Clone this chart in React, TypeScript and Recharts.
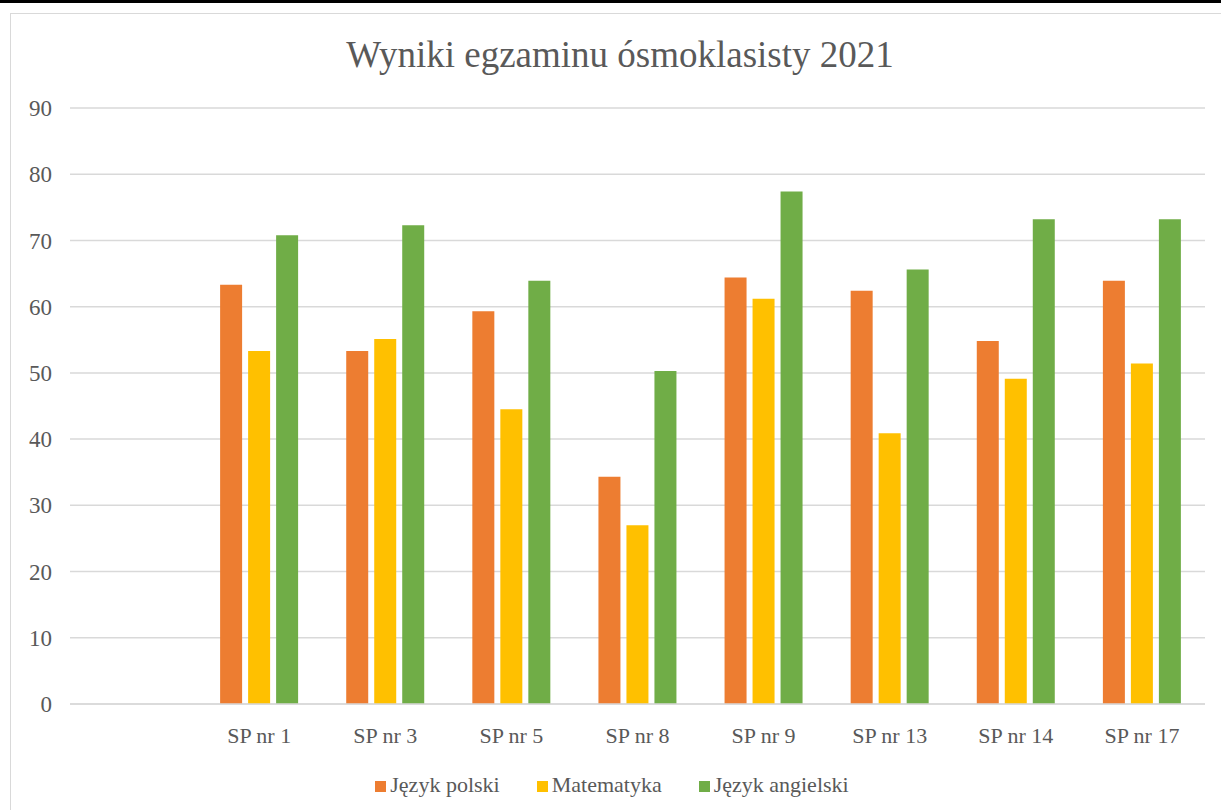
import { BarChart, Bar, XAxis, YAxis, CartesianGrid, Legend } from "recharts";

const schools = ["", "SP nr 1", "SP nr 3", "SP nr 5", "SP nr 8", "SP nr 9", "SP nr 13", "SP nr 14", "SP nr 17"];
const polski = [null, 63.3, 53.3, 59.3, 34.3, 64.4, 62.4, 54.8, 63.9];
const matematyka = [null, 53.3, 55.1, 44.5, 27.0, 61.2, 40.9, 49.1, 51.4];
const angielski = [null, 70.8, 72.3, 63.9, 50.3, 77.4, 65.6, 73.2, 73.2];
const yTicks = [0, 10, 20, 30, 40, 50, 60, 70, 80, 90];
const legendOrder = ["polski", "matematyka", "angielski"];

const data = schools.map((name, i) => ({
  name,
  polski: polski[i],
  matematyka: matematyka[i],
  angielski: angielski[i],
}));

const FONT = '"Liberation Serif", "Times New Roman", serif';
const TEXT = "#595959";
const GRID = "#d9d9d9";

export default function App() {
  return (
    <div style={{ position: "fixed", left: 0, top: 0, width: 1221, height: 810, background: "#fff", overflow: "hidden", fontFamily: FONT }}>
      <div style={{ position: "absolute", left: 0, top: 0, width: 1221, height: 3, background: "#000" }} />
      <div style={{ position: "absolute", left: 10, top: 13, width: 1240, height: 840, border: `1.5px solid ${GRID}` }} />
      <div
        style={{
          position: "absolute",
          left: 0,
          top: 33,
          width: 1240,
          textAlign: "center",
          fontSize: 37,
          color: TEXT,
        }}
      >
        Wyniki egzaminu ósmoklasisty 2021
      </div>
      <BarChart
        width={1221}
        height={810}
        data={data}
        margin={{ top: 108, right: 16, left: 0, bottom: 50 }}
        barSize={22}
        barGap={6}
        style={{ position: "absolute", left: 0, top: 0, fontFamily: FONT }}
      >
        <CartesianGrid vertical={false} stroke={GRID} strokeWidth={1.5} />
        <XAxis
          dataKey="name"
          axisLine={{ stroke: GRID, strokeWidth: 1.5 }}
          tickLine={false}
          tickMargin={17}
          tick={{ fill: TEXT, fontSize: 22, fontFamily: FONT, style: { fontFamily: FONT } }}
          interval={0}
        />
        <YAxis
          domain={[0, 90]}
          ticks={yTicks}
          width={70}
          axisLine={false}
          tickLine={false}
          tickMargin={12}
          tick={{ fill: TEXT, fontSize: 23, fontFamily: FONT, style: { fontFamily: FONT } }}
        />
        <Legend
          verticalAlign="bottom"
          iconType="square"
          iconSize={11}
          itemSorter={(item) => legendOrder.indexOf(String(item.dataKey))}
          wrapperStyle={{ fontFamily: FONT, fontSize: 22, color: TEXT, bottom: 12, left: 28 }}
          formatter={(value) => (
            <span style={{ color: TEXT, fontFamily: FONT, fontSize: 22, marginRight: 27 }}>{value}</span>
          )}
        />
        <Bar dataKey="polski" name="Język polski" fill="#ED7D31" isAnimationActive={false} />
        <Bar dataKey="matematyka" name="Matematyka" fill="#FFC000" isAnimationActive={false} />
        <Bar dataKey="angielski" name="Język angielski" fill="#70AD47" isAnimationActive={false} />
      </BarChart>
    </div>
  );
}
